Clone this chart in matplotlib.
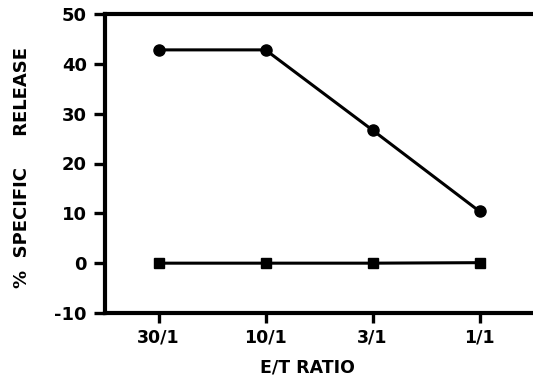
import matplotlib.pyplot as plt

plt.rcParams['font.family'] = ['DejaVu Sans']

# E/T ratios and % specific release
ratios = ['30/1', '10/1', '3/1', '1/1']
release_effector = [42.8, 42.8, 26.7, 10.4]
release_control = [0.0, 0.0, 0.0, 0.1]
y_ticks = [-10, 0, 10, 20, 30, 40, 50]

fig = plt.figure(figsize=(5.33, 3.8), dpi=100)
ax = fig.add_axes([105 / 533, 1 - 313 / 380, 428 / 533, 299 / 380])

x = list(range(len(ratios)))
ax.plot(x, release_effector, color='black', lw=2.2, marker='o', ms=8)
ax.plot(x, release_control, color='black', lw=2.2, marker='s', ms=7.5,
        mfc='black', mec='black')

ax.set_xlim(-0.5, 3.5)
ax.set_ylim(-10, 50)
ax.set_xticks(x)
ax.set_xticklabels(ratios, fontsize=12.5, fontweight='bold')
ax.set_yticks(y_ticks)
ax.set_yticklabels([str(v) for v in y_ticks], fontsize=13, fontweight='bold')

ax.tick_params(axis='y', direction='out', length=8, width=2.4, pad=5)
ax.tick_params(axis='x', direction='out', length=7, width=2.4, pad=4.5)

for s in ['left', 'bottom', 'top']:
    ax.spines[s].set_linewidth(3)
ax.spines['right'].set_linewidth(0.6)

ax.set_xlabel('E/T RATIO', fontsize=12.5, fontweight='bold')
ax.xaxis.set_label_coords(0.472, -0.152)
ax.set_ylabel('%  SPECIFIC     RELEASE', fontsize=13, fontweight='bold')
ax.yaxis.set_label_coords(-0.173, 0.487)

fig.savefig('out.png', dpi=100)
